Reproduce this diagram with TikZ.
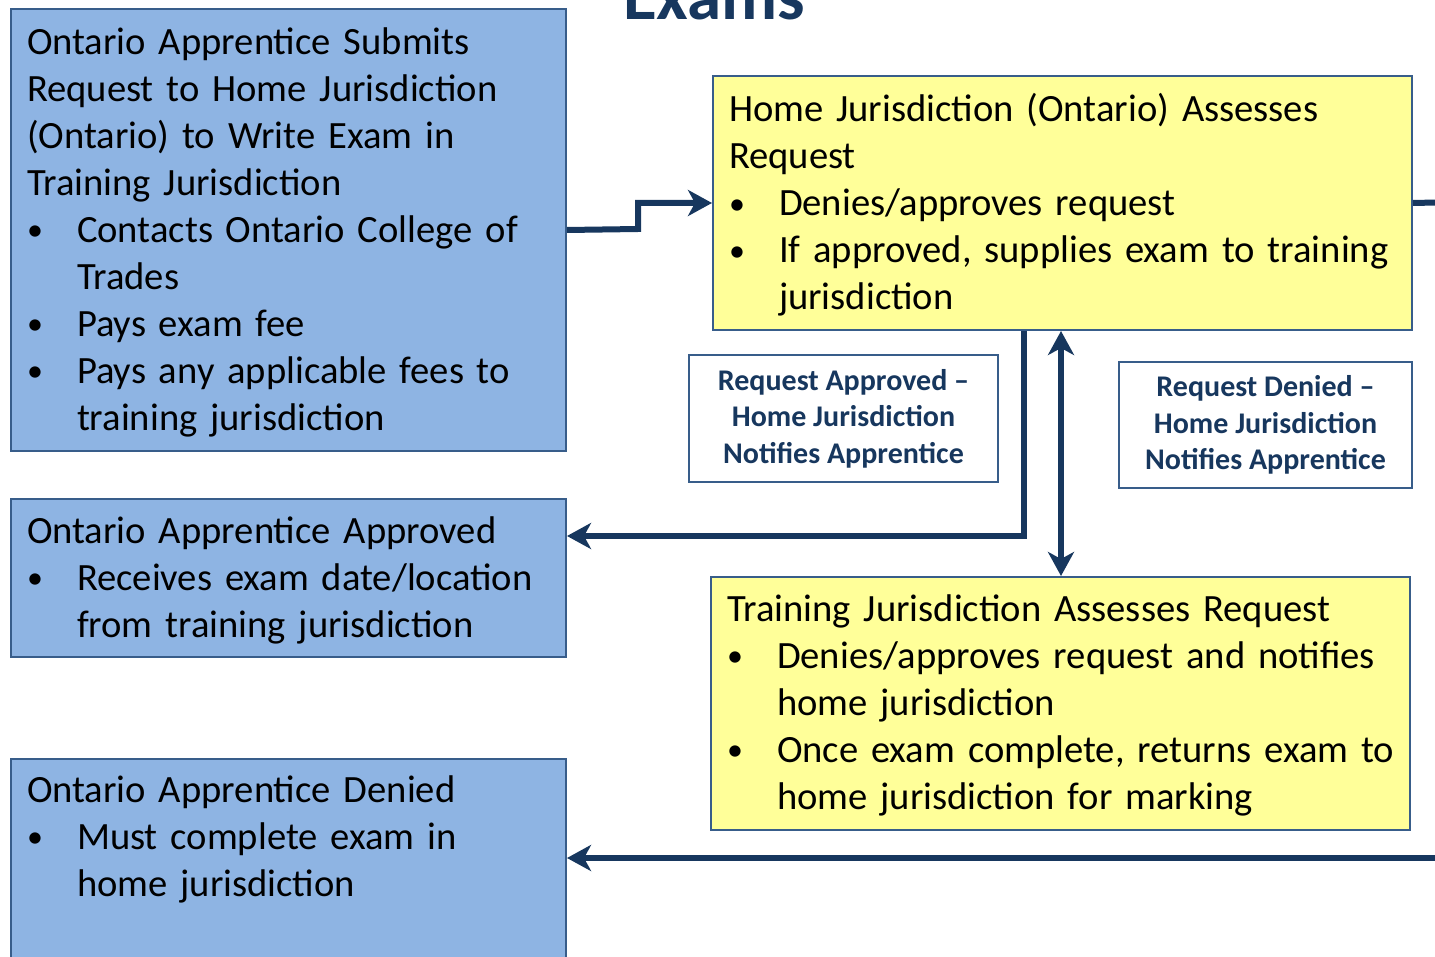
\documentclass[tikz,border=0pt]{standalone}
\usepackage{fontspec}
\setmainfont{Carlito}
\usetikzlibrary{arrows.meta}
\definecolor{boxblue}{HTML}{8EB4E3}
\definecolor{boxyellow}{HTML}{FFFF99}
\definecolor{edgeblue}{HTML}{385D8A}
\definecolor{navy}{HTML}{17375E}
\setlength{\parindent}{0pt}
\newcommand\bitem{\par\rightskip=-20pt plus 1fil\hangindent=25pt\hangafter=0\noindent\llap{\makebox[25pt][l]{\raisebox{0.8pt}{\fontsize{16pt}{16pt}\selectfont\textbullet}}}}
\newcommand\lowertext{\par\kern-2pt}
\tikzset{
  boxtext/.style={font=\fontsize{19.3pt}{23.5pt}\selectfont, align=left, anchor=north west, line width=1pt, draw=edgeblue, inner ysep=0pt},
  bluebox/.style={boxtext, fill=boxblue, minimum width=277.5pt, text width=261.5pt, inner xsep=8pt},
  yellowbox/.style={boxtext, fill=boxyellow, minimum width=349.5pt, text width=333.5pt, inner xsep=8pt},
  labelbox/.style={draw=edgeblue, line width=1pt, fill=white, align=center, text=navy, anchor=north west,
    font=\bfseries\fontsize{15pt}{18.3pt}\selectfont, inner sep=0pt},
  conn/.style={draw=navy, line width=3pt},
  tip/.tip={Stealth[length=12pt,width=13pt,inset=3.5pt]}
}
\begin{document}
\begin{tikzpicture}[x=0.5pt,y=-0.5pt]
\useasboundingbox (0,0) rectangle (1435,957);
\clip (0,0) rectangle (1435,957);

\node[font=\bfseries\fontsize{34.5pt}{40pt}\selectfont, text=navy, anchor=base, inner sep=0pt] (title) at (714,20) {Exams};

\node[bluebox, minimum height=221pt] (b1) at (10,8) {Ontario Apprentice Submits\newline Request to Home Jurisdiction\newline (Ontario) to Write Exam in\newline Training Jurisdiction
\bitem Contacts Ontario College of\newline Trades
\bitem Pays exam fee
\bitem Pays any applicable fees to\newline training jurisdiction\lowertext};

\node[bluebox, minimum height=79pt] (b2) at (10,498) {Ontario Apprentice Approved
\bitem Receives exam date/location\newline from training jurisdiction\lowertext};

\node[bluebox, minimum height=121pt] (b3) at (10,758) {Ontario Apprentice Denied
\bitem Must complete exam in\newline home jurisdiction\par\nointerlineskip\vbox to 41pt{}};

\node[yellowbox, minimum height=127pt] (y1) at (712,75) {Home Jurisdiction (Ontario) Assesses\newline Request
\bitem Denies/approves request
\bitem If approved, supplies exam to training\newline jurisdiction\lowertext};

\node[yellowbox, minimum height=126.5pt, inner xsep=7.5pt] (y2) at (710,576) {Training Jurisdiction Assesses Request
\bitem Denies/approves request and notifies\newline home jurisdiction
\bitem Once exam complete, returns exam to\newline home jurisdiction for marking\lowertext};

\node[labelbox, minimum width=154.5pt, minimum height=63.5pt] (l1) at (688,354) {Request Approved --\\Home Jurisdiction\\Notifies Apprentice};
\node[labelbox, minimum width=146.5pt, minimum height=63pt] (l2) at (1118,361) {Request Denied --\\Home Jurisdiction\\Notifies Apprentice};

\coordinate (c1) at (638,229);
\coordinate (r1) at (1460,202);
\coordinate (c3) at (1024,536);
\coordinate (c4) at (1061,450);
\coordinate (r5) at (1460,858);

\draw[conn,-tip] (b1.east) -- (c1) |- (y1.west);
\draw[conn] (y1.east) -- (r1);
\draw[conn,-tip] (y1.south -| c3) -- (c3) -- (c3 -| b2.east);
\draw[conn,tip-tip] (y1.south -| c4) -- (y2.north -| c4);
\draw[conn,-tip] (r5) -- (r5 -| b3.east);
\end{tikzpicture}
\end{document}
